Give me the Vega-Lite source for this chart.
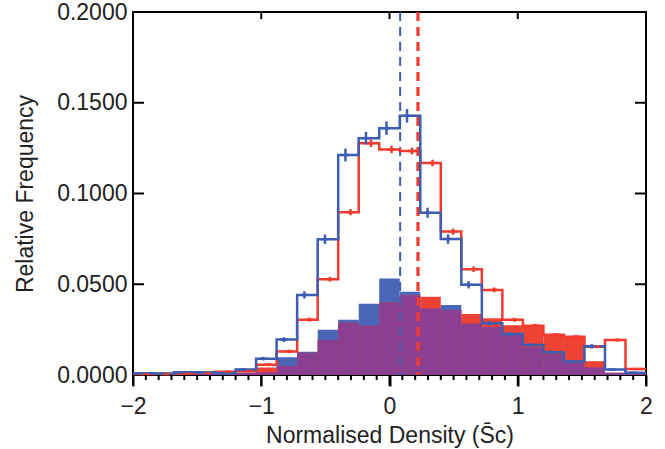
{
  "$schema": "https://vega.github.io/schema/vega-lite/v6.json",
  "width": 513,
  "height": 363,
  "autosize": "none",
  "padding": {"left": 133, "top": 12, "right": 19, "bottom": 74},
  "background": "white",
  "config": {
    "view": {"stroke": "black", "strokeWidth": 2},
    "axis": {"labelFont": "Liberation Sans", "titleFont": "Liberation Sans", "labelFontSize": 23, "titleFontSize": 23, "titleFontWeight": "normal", "labelColor": "#222", "titleColor": "#222", "tickColor": "black", "tickWidth": 2, "grid": false, "domain": false, "labelOverlap": false, "labelFlush": false}
  },
  "datasets": {
    "bins": [
      {"x0": -2.00, "x1": -1.84, "xc": -1.92, "bo": 0.0010, "ro": 0.0005, "bf": 0.0005, "rf": 0.0003, "both": 0.0003, "blo": 0.0005, "bhi": 0.0015, "rlo": 0.0001, "rhi": 0.0009},
      {"x0": -1.84, "x1": -1.68, "xc": -1.76, "bo": 0.0008, "ro": 0.0005, "bf": 0.0005, "rf": 0.0003, "both": 0.0003, "blo": 0.0003, "bhi": 0.0013, "rlo": 0.0001, "rhi": 0.0009},
      {"x0": -1.68, "x1": -1.52, "xc": -1.60, "bo": 0.0015, "ro": 0.0008, "bf": 0.0010, "rf": 0.0005, "both": 0.0005, "blo": 0.0010, "bhi": 0.0020, "rlo": 0.0004, "rhi": 0.0012},
      {"x0": -1.52, "x1": -1.36, "xc": -1.44, "bo": 0.0015, "ro": 0.0012, "bf": 0.0010, "rf": 0.0008, "both": 0.0008, "blo": 0.0010, "bhi": 0.0020, "rlo": 0.0008, "rhi": 0.0016},
      {"x0": -1.36, "x1": -1.20, "xc": -1.28, "bo": 0.0010, "ro": 0.0018, "bf": 0.0007, "rf": 0.0012, "both": 0.0007, "blo": 0.0005, "bhi": 0.0015, "rlo": 0.0014, "rhi": 0.0022},
      {"x0": -1.20, "x1": -1.04, "xc": -1.12, "bo": 0.0030, "ro": 0.0022, "bf": 0.0012, "rf": 0.0012, "both": 0.0012, "blo": 0.0022, "bhi": 0.0038, "rlo": 0.0016, "rhi": 0.0028},
      {"x0": -1.04, "x1": -0.88, "xc": -0.96, "bo": 0.0090, "ro": 0.0057, "bf": 0.0015, "rf": 0.0042, "both": 0.0015, "blo": 0.0080, "bhi": 0.0100, "rlo": 0.0049, "rhi": 0.0065},
      {"x0": -0.88, "x1": -0.72, "xc": -0.80, "bo": 0.0195, "ro": 0.0130, "bf": 0.0098, "rf": 0.0050, "both": 0.0050, "blo": 0.0182, "bhi": 0.0208, "rlo": 0.0120, "rhi": 0.0140},
      {"x0": -0.72, "x1": -0.56, "xc": -0.64, "bo": 0.0441, "ro": 0.0305, "bf": 0.0128, "rf": 0.0122, "both": 0.0122, "blo": 0.0421, "bhi": 0.0461, "rlo": 0.0294, "rhi": 0.0316},
      {"x0": -0.56, "x1": -0.40, "xc": -0.48, "bo": 0.0748, "ro": 0.0528, "bf": 0.0250, "rf": 0.0193, "both": 0.0193, "blo": 0.0722, "bhi": 0.0774, "rlo": 0.0515, "rhi": 0.0541},
      {"x0": -0.40, "x1": -0.24, "xc": -0.32, "bo": 0.1212, "ro": 0.0897, "bf": 0.0305, "rf": 0.0288, "both": 0.0288, "blo": 0.1177, "bhi": 0.1247, "rlo": 0.0880, "rhi": 0.0914},
      {"x0": -0.24, "x1": -0.08, "xc": -0.16, "bo": 0.1305, "ro": 0.1277, "bf": 0.0393, "rf": 0.0272, "both": 0.0272, "blo": 0.1270, "bhi": 0.1340, "rlo": 0.1256, "rhi": 0.1298},
      {"x0": -0.08, "x1": 0.08, "xc": 0.00, "bo": 0.1360, "ro": 0.1242, "bf": 0.0532, "rf": 0.0400, "both": 0.0400, "blo": 0.1323, "bhi": 0.1397, "rlo": 0.1222, "rhi": 0.1262},
      {"x0": 0.08, "x1": 0.24, "xc": 0.16, "bo": 0.1428, "ro": 0.1234, "bf": 0.0458, "rf": 0.0440, "both": 0.0440, "blo": 0.1391, "bhi": 0.1465, "rlo": 0.1215, "rhi": 0.1253},
      {"x0": 0.24, "x1": 0.40, "xc": 0.32, "bo": 0.0894, "ro": 0.1168, "bf": 0.0367, "rf": 0.0431, "both": 0.0367, "blo": 0.0866, "bhi": 0.0922, "rlo": 0.1150, "rhi": 0.1186},
      {"x0": 0.40, "x1": 0.56, "xc": 0.48, "bo": 0.0749, "ro": 0.0790, "bf": 0.0385, "rf": 0.0358, "both": 0.0358, "blo": 0.0723, "bhi": 0.0775, "rlo": 0.0773, "rhi": 0.0807},
      {"x0": 0.56, "x1": 0.72, "xc": 0.64, "bo": 0.0497, "ro": 0.0583, "bf": 0.0284, "rf": 0.0336, "both": 0.0284, "blo": 0.0477, "bhi": 0.0517, "rlo": 0.0568, "rhi": 0.0598},
      {"x0": 0.72, "x1": 0.88, "xc": 0.80, "bo": 0.0285, "ro": 0.0469, "bf": 0.0265, "rf": 0.0313, "both": 0.0265, "blo": 0.0272, "bhi": 0.0298, "rlo": 0.0456, "rhi": 0.0482},
      {"x0": 0.88, "x1": 1.04, "xc": 0.96, "bo": 0.0226, "ro": 0.0304, "bf": 0.0222, "rf": 0.0274, "both": 0.0222, "blo": 0.0214, "bhi": 0.0238, "rlo": 0.0293, "rhi": 0.0315},
      {"x0": 1.04, "x1": 1.20, "xc": 1.12, "bo": 0.0165, "ro": 0.0272, "bf": 0.0153, "rf": 0.0272, "both": 0.0153, "blo": 0.0155, "bhi": 0.0175, "rlo": 0.0262, "rhi": 0.0282},
      {"x0": 1.20, "x1": 1.36, "xc": 1.28, "bo": 0.0125, "ro": 0.0222, "bf": 0.0115, "rf": 0.0222, "both": 0.0115, "blo": 0.0115, "bhi": 0.0135, "rlo": 0.0213, "rhi": 0.0231},
      {"x0": 1.36, "x1": 1.52, "xc": 1.44, "bo": 0.0074, "ro": 0.0211, "bf": 0.0070, "rf": 0.0211, "both": 0.0070, "blo": 0.0066, "bhi": 0.0082, "rlo": 0.0202, "rhi": 0.0220},
      {"x0": 1.52, "x1": 1.68, "xc": 1.60, "bo": 0.0158, "ro": 0.0156, "bf": 0.0042, "rf": 0.0076, "both": 0.0042, "blo": 0.0146, "bhi": 0.0170, "rlo": 0.0148, "rhi": 0.0164},
      {"x0": 1.68, "x1": 1.84, "xc": 1.76, "bo": 0.0030, "ro": 0.0193, "bf": 0.0012, "rf": 0.0012, "both": 0.0012, "blo": 0.0025, "bhi": 0.0035, "rlo": 0.0185, "rhi": 0.0201},
      {"x0": 1.84, "x1": 2.00, "xc": 1.92, "bo": 0.0013, "ro": 0.0033, "bf": 0.0005, "rf": 0.0005, "both": 0.0005, "blo": 0.0010, "bhi": 0.0016, "rlo": 0.0029, "rhi": 0.0037}
    ],
    "steps": [
      {"x": -2.00, "bo": 0.0010, "ro": 0.0005},
      {"x": -1.84, "bo": 0.0008, "ro": 0.0005},
      {"x": -1.68, "bo": 0.0015, "ro": 0.0008},
      {"x": -1.52, "bo": 0.0015, "ro": 0.0012},
      {"x": -1.36, "bo": 0.0010, "ro": 0.0018},
      {"x": -1.20, "bo": 0.0030, "ro": 0.0022},
      {"x": -1.04, "bo": 0.0090, "ro": 0.0057},
      {"x": -0.88, "bo": 0.0195, "ro": 0.0130},
      {"x": -0.72, "bo": 0.0441, "ro": 0.0305},
      {"x": -0.56, "bo": 0.0748, "ro": 0.0528},
      {"x": -0.40, "bo": 0.1212, "ro": 0.0897},
      {"x": -0.24, "bo": 0.1305, "ro": 0.1277},
      {"x": -0.08, "bo": 0.1360, "ro": 0.1242},
      {"x": 0.08, "bo": 0.1428, "ro": 0.1234},
      {"x": 0.24, "bo": 0.0894, "ro": 0.1168},
      {"x": 0.40, "bo": 0.0749, "ro": 0.0790},
      {"x": 0.56, "bo": 0.0497, "ro": 0.0583},
      {"x": 0.72, "bo": 0.0285, "ro": 0.0469},
      {"x": 0.88, "bo": 0.0226, "ro": 0.0304},
      {"x": 1.04, "bo": 0.0165, "ro": 0.0272},
      {"x": 1.20, "bo": 0.0125, "ro": 0.0222},
      {"x": 1.36, "bo": 0.0074, "ro": 0.0211},
      {"x": 1.52, "bo": 0.0158, "ro": 0.0156},
      {"x": 1.68, "bo": 0.0030, "ro": 0.0193},
      {"x": 1.84, "bo": 0.0013, "ro": 0.0033},
      {"x": 2.00, "bo": 0.0013, "ro": 0.0033}
    ],
    "medians": [
      {"sample": "blue", "x": 0.083},
      {"sample": "red", "x": 0.222}
    ],
    "xmajor": [{"v": -2}, {"v": -1}, {"v": 0}, {"v": 1}, {"v": 2}],
    "xminor": [
      {"v": -1.9}, {"v": -1.8}, {"v": -1.7}, {"v": -1.6}, {"v": -1.5}, {"v": -1.4}, {"v": -1.3}, {"v": -1.2}, {"v": -1.1},
      {"v": -0.9}, {"v": -0.8}, {"v": -0.7}, {"v": -0.6}, {"v": -0.5}, {"v": -0.4}, {"v": -0.3}, {"v": -0.2}, {"v": -0.1},
      {"v": 0.1}, {"v": 0.2}, {"v": 0.3}, {"v": 0.4}, {"v": 0.5}, {"v": 0.6}, {"v": 0.7}, {"v": 0.8}, {"v": 0.9},
      {"v": 1.1}, {"v": 1.2}, {"v": 1.3}, {"v": 1.4}, {"v": 1.5}, {"v": 1.6}, {"v": 1.7}, {"v": 1.8}, {"v": 1.9}
    ],
    "xtop": [{"v": -1}, {"v": 0}, {"v": 1}],
    "ymajor": [{"v": 0.05}, {"v": 0.1}, {"v": 0.15}]
  },
  "layer": [
    {
      "data": {"name": "bins"},
      "mark": {"type": "rect", "color": "#4a66b6"},
      "encoding": {
        "x": {"field": "x0", "type": "quantitative", "scale": {"domain": [-2, 2], "nice": false, "zero": false},
          "axis": {"orient": "bottom", "values": [-2, -1, 0, 1, 2], "format": "d", "tickSize": 11, "labelPadding": 9,
            "title": "Normalised Density (S̄c)", "titlePadding": 6}},
        "x2": {"field": "x1"},
        "y": {"field": "bf", "type": "quantitative", "scale": {"domain": [0, 0.2], "nice": false},
          "axis": {"orient": "left", "values": [0, 0.05, 0.1, 0.15, 0.2], "format": ".4f", "ticks": false, "labelPadding": 6, "title": "Relative Frequency", "titlePadding": 19}},
        "y2": {"datum": 0}
      }
    },
    {
      "data": {"name": "bins"},
      "mark": {"type": "rect", "color": "#ee4234"},
      "encoding": {
        "x": {"field": "x0", "type": "quantitative"},
        "x2": {"field": "x1"},
        "y": {"field": "rf", "type": "quantitative"},
        "y2": {"datum": 0}
      }
    },
    {
      "data": {"name": "bins"},
      "mark": {"type": "rect", "color": "#8a3f90"},
      "encoding": {
        "x": {"field": "x0", "type": "quantitative"},
        "x2": {"field": "x1"},
        "y": {"field": "both", "type": "quantitative"},
        "y2": {"datum": 0}
      }
    },
    {
      "data": {"name": "medians"},
      "mark": {"type": "rule", "strokeDash": [9, 6]},
      "encoding": {
        "x": {"field": "x", "type": "quantitative"},
        "color": {"field": "sample", "type": "nominal", "scale": {"domain": ["blue", "red"], "range": ["#3d5db3", "#f23a2e"]}, "legend": null},
        "strokeWidth": {"field": "sample", "type": "nominal", "scale": {"domain": ["blue", "red"], "range": [2, 3.2]}, "legend": null}
      }
    },
    {
      "data": {"name": "steps"},
      "mark": {"type": "line", "interpolate": "step-after", "color": "#f23a2e", "strokeWidth": 2.5},
      "encoding": {
        "x": {"field": "x", "type": "quantitative"},
        "y": {"field": "ro", "type": "quantitative"}
      }
    },
    {
      "data": {"name": "steps"},
      "mark": {"type": "line", "interpolate": "step-after", "color": "#3d5db3", "strokeWidth": 2.5},
      "encoding": {
        "x": {"field": "x", "type": "quantitative"},
        "y": {"field": "bo", "type": "quantitative"}
      }
    },
    {
      "data": {"name": "bins"},
      "mark": {"type": "rule", "color": "#f23a2e", "strokeWidth": 2.5, "xOffset": 2},
      "encoding": {
        "x": {"field": "xc", "type": "quantitative"},
        "y": {"field": "rlo", "type": "quantitative"},
        "y2": {"field": "rhi"}
      }
    },
    {
      "data": {"name": "bins"},
      "mark": {"type": "tick", "orient": "horizontal", "color": "#f23a2e", "thickness": 2.5, "size": 8, "xOffset": 2},
      "encoding": {
        "x": {"field": "xc", "type": "quantitative"},
        "y": {"field": "ro", "type": "quantitative"}
      }
    },
    {
      "data": {"name": "bins"},
      "mark": {"type": "rule", "color": "#3d5db3", "strokeWidth": 2.5, "xOffset": -3},
      "encoding": {
        "x": {"field": "xc", "type": "quantitative"},
        "y": {"field": "blo", "type": "quantitative"},
        "y2": {"field": "bhi"}
      }
    },
    {
      "data": {"name": "bins"},
      "mark": {"type": "tick", "orient": "horizontal", "color": "#3d5db3", "thickness": 2.5, "size": 8, "xOffset": -3},
      "encoding": {
        "x": {"field": "xc", "type": "quantitative"},
        "y": {"field": "bo", "type": "quantitative"}
      }
    },
    {
      "data": {"name": "xmajor"},
      "mark": {"type": "rule", "color": "black", "strokeWidth": 2},
      "encoding": {
        "x": {"field": "v", "type": "quantitative"},
        "y": {"datum": 0, "type": "quantitative"},
        "y2": {"datum": -0.0061}
      }
    },
    {
      "data": {"name": "xminor"},
      "mark": {"type": "rule", "color": "black", "strokeWidth": 2},
      "encoding": {
        "x": {"field": "v", "type": "quantitative"},
        "y": {"datum": 0, "type": "quantitative"},
        "y2": {"datum": -0.0028}
      }
    },
    {
      "data": {"name": "xtop"},
      "mark": {"type": "rule", "color": "black", "strokeWidth": 2},
      "encoding": {
        "x": {"field": "v", "type": "quantitative"},
        "y": {"datum": 0.2, "type": "quantitative"},
        "y2": {"datum": 0.1961}
      }
    },
    {
      "data": {"name": "ymajor"},
      "mark": {"type": "rule", "color": "black", "strokeWidth": 2},
      "encoding": {
        "y": {"field": "v", "type": "quantitative"},
        "x": {"datum": -2, "type": "quantitative"},
        "x2": {"datum": -1.914}
      }
    },
    {
      "data": {"name": "ymajor"},
      "mark": {"type": "rule", "color": "black", "strokeWidth": 2},
      "encoding": {
        "y": {"field": "v", "type": "quantitative"},
        "x": {"datum": 2, "type": "quantitative"},
        "x2": {"datum": 1.914}
      }
    }
  ]
}
